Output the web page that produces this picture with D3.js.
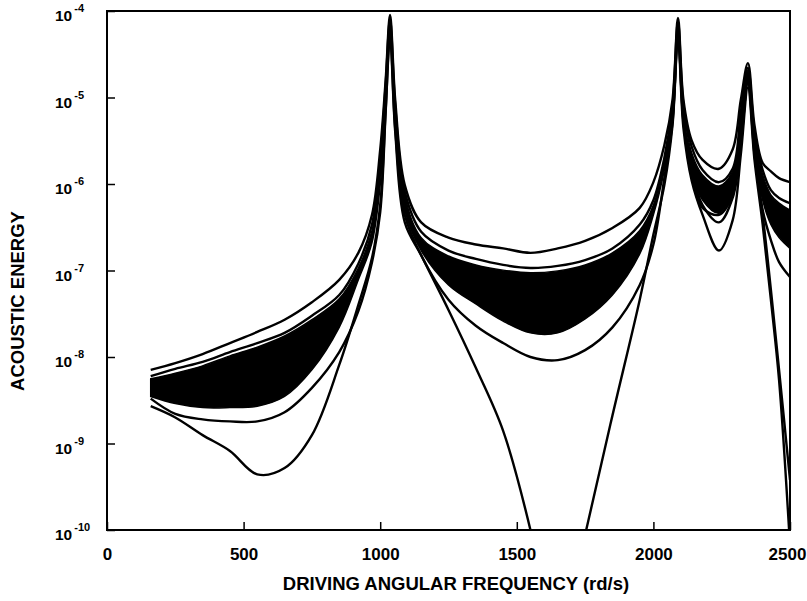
<!DOCTYPE html>
<html>
<head>
<meta charset="utf-8">
<script src="https://cdn.jsdelivr.net/npm/d3@7"></script>
<style>
	body { margin: 0; background: #fff; }
	svg text { font-family: "Liberation Sans", Arial, sans-serif; font-weight: bold; fill: #000; }
</style>
</head>
<body>
<svg id="chart" width="807" height="601"></svg>
<script>

// driving frequencies (rd/s) where the curves were read
var freq = [160, 250, 350, 450, 550, 650, 750, 850, 920, 970,
	1000, 1020, 1036, 1055, 1090, 1150, 1250, 1350, 1450, 1550,
	1650, 1750, 1850, 1950, 2000, 2040, 2070, 2090, 2110, 2140,
	2180, 2240, 2290, 2320, 2346, 2370, 2400, 2430, 2460, 2500];

// upper envelope
var curveA = [7.1e-9, 8.5e-9, 1.08e-8, 1.45e-8, 1.95e-8, 2.7e-8, 4.3e-8, 7.8e-8, 1.6e-7, 4.4e-7,
	2.5e-6, 1.6e-5, 9.0e-5, 9.4e-6, 9.7e-7, 3.6e-7, 2.4e-7, 2.0e-7, 1.8e-7, 1.6e-7,
	1.8e-7, 2.2e-7, 3.1e-7, 5.3e-7, 1.05e-6, 2.8e-6, 9.4e-6, 8.3e-5, 9.4e-6, 3.2e-6,
	1.9e-6, 1.5e-6, 2.5e-6, 9.4e-6, 2.5e-5, 4.8e-6, 1.75e-6, 1.4e-6, 1.17e-6, 1.05e-6];

// second curve, just above the band
var curveB = [6.0e-9, 7.3e-9, 8.8e-9, 1.14e-8, 1.45e-8, 1.9e-8, 3.0e-8, 5.2e-8, 1.2e-7, 3.4e-7,
	1.9e-6, 1.4e-5, 7.9e-5, 8.0e-6, 8.1e-7, 2.8e-7, 1.7e-7, 1.36e-7, 1.16e-7, 1.07e-7,
	1.13e-7, 1.32e-7, 1.8e-7, 3.4e-7, 6.5e-7, 2.0e-6, 8.0e-6, 7.5e-5, 8.2e-6, 2.7e-6,
	1.45e-6, 1.05e-6, 1.5e-6, 6.8e-6, 2.2e-5, 4.0e-6, 1.45e-6, 8.5e-7, 6.9e-7, 6.0e-7];

// dense bundle of curves (drawn as a filled band)
var bandTop = [5.6e-9, 6.5e-9, 7.9e-9, 1.03e-8, 1.3e-8, 1.75e-8, 2.7e-8, 4.7e-8, 1.07e-7, 2.9e-7,
	1.66e-6, 1.3e-5, 7.1e-5, 7.2e-6, 7.3e-7, 2.4e-7, 1.47e-7, 1.16e-7, 1.01e-7, 9.4e-8,
	9.9e-8, 1.16e-7, 1.6e-7, 2.9e-7, 5.7e-7, 1.8e-6, 7.2e-6, 6.9e-5, 7.6e-6, 2.3e-6,
	1.27e-6, 9.5e-7, 1.4e-6, 5.8e-6, 2.1e-5, 3.7e-6, 1.27e-6, 7.5e-7, 6.0e-7, 5.0e-7];
var bandBottom = [3.5e-9, 2.9e-9, 2.6e-9, 2.6e-9, 2.7e-9, 3.5e-9, 7.1e-9, 2.2e-8, 7.8e-8, 2.1e-7,
	9.7e-7, 9.4e-6, 4.9e-5, 5.2e-6, 5.0e-7, 1.7e-7, 6.8e-8, 4.1e-8, 2.6e-8, 1.9e-8,
	1.9e-8, 2.75e-8, 5.2e-8, 1.55e-7, 4.4e-7, 1.45e-6, 5.8e-6, 4.9e-5, 5.8e-6, 1.45e-6,
	6.5e-7, 4.6e-7, 8.1e-7, 3.4e-6, 1.43e-5, 2.5e-6, 6.5e-7, 3.4e-7, 2.4e-7, 1.8e-7];

// curve below the band
var curveC = [3.3e-9, 2.2e-9, 1.9e-9, 1.8e-9, 1.8e-9, 2.3e-9, 4.4e-9, 1.14e-8, 3.4e-8, 1.25e-7,
	4.7e-7, 6.8e-6, 5.7e-5, 4.4e-6, 4.4e-7, 1.5e-7, 4.6e-8, 2.3e-8, 1.45e-8, 1.0e-8,
	9.2e-9, 1.2e-8, 2.2e-8, 6.8e-8, 2.0e-7, 1.17e-6, 5.2e-6, 6.0e-5, 5.2e-6, 1.4e-6,
	5.7e-7, 3.6e-7, 6.9e-7, 2.8e-6, 1.6e-5, 2.5e-6, 5.0e-7, 2.25e-7, 1.25e-7, 8.4e-8];

// lowest curve (drops out of the frame near 1650 and 2500)
var curveD = [2.7e-9, 2.0e-9, 1.25e-9, 8.2e-10, 4.4e-10, 5.2e-10, 1.25e-9, 8.1e-9, 4.0e-8, 1.4e-7,
	5.7e-7, 7.2e-6, 4.9e-5, 4.0e-6, 3.6e-7, 1.5e-7, 3.5e-8, 7.5e-9, 1.4e-9, 1.0e-10,
	3e-12, 8.8e-11, 2.1e-9, 4.6e-8, 2.6e-7, 9.7e-7, 4.8e-6, 4.9e-5, 4.4e-6, 1.1e-6,
	4.4e-7, 1.7e-7, 3.8e-7, 2.2e-6, 1.3e-5, 1.9e-6, 3.4e-7, 4.6e-8, 5.4e-9, 6.7e-11];

// extra curve only visible past the second resonance
var tailFreq = [2040, 2070, 2090, 2110, 2140, 2180, 2240, 2290, 2320, 2346, 2370, 2400, 2430, 2460, 2500];
var curveE = [1.45e-6, 5.8e-6, 5.1e-5, 5.5e-6, 1.27e-6, 5.3e-7, 4.4e-7, 7.5e-7, 3.1e-6, 1.5e-5,
	2.2e-6, 4.4e-7, 6.0e-8, 7.1e-9, 3.8e-10];

// axis ticks
var xTicks = [0, 500, 1000, 1500, 2000, 2500];
var yTicks = [1e-10, 1e-9, 1e-8, 1e-7, 1e-6, 1e-5, 1e-4];
var yTickExp = ["-10", "-9", "-8", "-7", "-6", "-5", "-4"];


var svg = d3.select("#chart");

var x = d3.scaleLinear().domain([0, 2500]).range([107, 790]);
var y = d3.scaleLog().domain([1e-10, 1e-4]).range([530, 11]);

// clip the curves to the frame
svg.append("clipPath").attr("id", "plotArea")
	.append("rect")
	.attr("x", x(0)).attr("y", y(1e-4))
	.attr("width", x(2500) - x(0))
	.attr("height", y(1e-10) - y(1e-4));

var plot = svg.append("g").attr("clip-path", "url(#plotArea)");

var smooth = d3.curveCatmullRom.alpha(0.5);

// filled band
var bandRows = freq.map(function(f, i){
	return {f: f, top: bandTop[i], bottom: bandBottom[i]};
});
var band = d3.area()
	.x(function(d){ return x(d.f); })
	.y0(function(d){ return y(d.bottom); })
	.y1(function(d){ return y(d.top); })
	.curve(smooth);

plot.append("path")
	.datum(bandRows)
	.attr("d", band)
	.attr("fill", "#000")
	.attr("stroke", "#000")
	.attr("stroke-width", 1.5);

// individual curves
var line = d3.line()
	.x(function(d){ return x(d[0]); })
	.y(function(d){ return y(d[1]); })
	.curve(smooth);

var series = [
	d3.zip(freq, curveA),
	d3.zip(freq, curveB),
	d3.zip(freq, curveC),
	d3.zip(freq, curveD),
	d3.zip(tailFreq, curveE)
];

plot.selectAll(".curve").data(series)
	.enter()
	.append("path")
	.attr("class", "curve")
	.attr("d", line)
	.attr("fill", "none")
	.attr("stroke", "#000")
	.attr("stroke-width", 2.4)
	.attr("stroke-linejoin", "round");

// x axis, ticks pointing inwards
var xAxis = svg.append("g")
	.attr("transform", "translate(0," + y(1e-10) + ")")
	.call(d3.axisBottom(x).tickValues(xTicks).tickSize(-8).tickPadding(18).tickFormat(d3.format("d")));
xAxis.select(".domain").remove();
xAxis.selectAll("line").attr("stroke-width", 1.5);
xAxis.selectAll("text")
	.attr("font-size", 17)
	.attr("dx", function(d){ return d == 2500 ? -3 : 0; })
	.style("font-family", "'Liberation Sans', Arial, sans-serif")
	.style("font-weight", "bold");

// y axis, ticks only
var yAxis = svg.append("g")
	.attr("transform", "translate(" + x(0) + ",0)")
	.call(d3.axisLeft(y).tickValues(yTicks).tickSize(-8).tickFormat(""));
yAxis.select(".domain").remove();
yAxis.selectAll("line").attr("stroke-width", 1.5);

// power-of-ten labels
var yLabels = svg.selectAll(".ylabel").data(yTicks)
	.enter()
	.append("text")
	.attr("class", "ylabel")
	.attr("x", 55)
	.attr("y", function(d){ return y(d) + 10; })
	.attr("font-size", 15.5);
yLabels.append("tspan").text("10");
yLabels.append("tspan")
	.attr("dx", 2)
	.attr("dy", -9)
	.attr("font-size", 11)
	.text(function(d, i){ return yTickExp[i]; });

// frame
svg.append("rect")
	.attr("x", x(0)).attr("y", y(1e-4))
	.attr("width", x(2500) - x(0))
	.attr("height", y(1e-10) - y(1e-4))
	.attr("fill", "none")
	.attr("stroke", "#000")
	.attr("stroke-width", 2);

// axis titles
svg.append("text")
	.attr("x", 456)
	.attr("y", 590)
	.attr("text-anchor", "middle")
	.attr("font-size", 18.5)
	.text("DRIVING ANGULAR FREQUENCY (rd/s)");

svg.append("text")
	.attr("transform", "translate(24,301) rotate(-90)")
	.attr("text-anchor", "middle")
	.attr("font-size", 18.5)
	.text("ACOUSTIC ENERGY");

</script>
</body>
</html>
